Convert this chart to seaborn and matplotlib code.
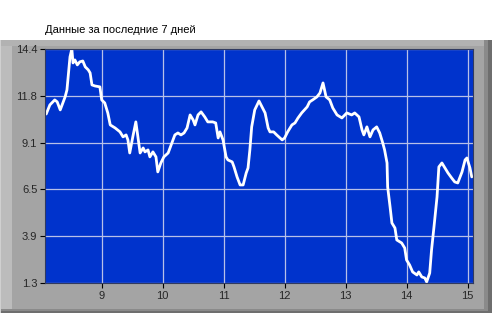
import matplotlib
matplotlib.use("Agg")
import matplotlib.pyplot as plt
from matplotlib.patches import Rectangle
import seaborn as sns
import pandas as pd

# ---- data ----
days = [8.09, 8.15, 8.23, 8.27, 8.32, 8.37, 8.40, 8.43, 8.45, 8.48, 8.51, 8.53, 8.56, 8.60,
        8.64, 8.69, 8.73, 8.78, 8.81, 8.84, 8.89, 8.97, 9.00, 9.05, 9.10, 9.14, 9.22, 9.30,
        9.35, 9.40, 9.43, 9.46, 9.51, 9.56, 9.60, 9.63, 9.68, 9.71, 9.76, 9.79, 9.84, 9.89,
        9.92, 9.97, 10.02, 10.09, 10.15, 10.20, 10.25, 10.30, 10.35, 10.40, 10.45, 10.50,
        10.53, 10.58, 10.63, 10.69, 10.74, 10.82, 10.87, 10.91, 10.94, 10.99, 11.04, 11.07,
        11.14, 11.17, 11.22, 11.27, 11.32, 11.37, 11.40, 11.43, 11.46, 11.51, 11.58, 11.63,
        11.68, 11.73, 11.76, 11.82, 11.87, 11.96, 12.00, 12.05, 12.12, 12.17, 12.22, 12.28,
        12.37, 12.41, 12.46, 12.53, 12.58, 12.63, 12.68, 12.74, 12.79, 12.86, 12.94, 13.02,
        13.10, 13.15, 13.22, 13.27, 13.30, 13.35, 13.40, 13.45, 13.51, 13.56, 13.61, 13.64,
        13.68, 13.69, 13.73, 13.76, 13.81, 13.84, 13.92, 13.97, 14.00, 14.05, 14.10, 14.17,
        14.20, 14.25, 14.30, 14.33, 14.38, 14.41, 14.45, 14.50, 14.53, 14.58, 14.63, 14.68,
        14.74, 14.79, 14.84, 14.91, 14.96, 14.99, 15.04, 15.07]
values = [10.76, 11.27, 11.55, 11.44, 10.99, 11.44, 11.72, 12.11, 12.84, 13.96, 14.40, 13.62,
          13.79, 13.51, 13.68, 13.73, 13.40, 13.23, 13.06, 12.39, 12.33, 12.28, 11.55, 11.38,
          10.82, 10.15, 9.98, 9.76, 9.48, 9.59, 9.31, 8.58, 9.48, 10.32, 9.31, 8.58, 8.86,
          8.64, 8.75, 8.36, 8.64, 8.36, 7.52, 8.02, 8.36, 8.58, 9.14, 9.59, 9.70, 9.59, 9.70,
          9.98, 10.71, 10.43, 10.15, 10.71, 10.88, 10.60, 10.32, 10.32, 10.26, 9.42, 9.76,
          9.31, 8.36, 8.19, 8.08, 7.80, 7.24, 6.79, 6.79, 7.46, 7.74, 8.75, 10.04, 10.99,
          11.49, 11.16, 10.82, 9.98, 9.76, 9.76, 9.59, 9.31, 9.42, 9.76, 10.15, 10.26, 10.54,
          10.82, 11.16, 11.44, 11.55, 11.72, 11.94, 12.50, 11.72, 11.55, 11.10, 10.71, 10.54,
          10.82, 10.71, 10.82, 10.60, 9.87, 9.59, 10.04, 9.48, 9.87, 10.04, 9.70, 9.14, 8.75,
          8.02, 6.68, 5.56, 4.66, 4.38, 3.71, 3.54, 3.26, 2.59, 2.31, 1.92, 1.75, 1.92, 1.64,
          1.58, 1.36, 1.86, 3.15, 4.44, 6.12, 7.80, 8.02, 7.74, 7.46, 7.18, 6.96, 6.90, 7.52,
          8.19, 8.30, 7.74, 7.24]
x_ticks = [9, 10, 11, 12, 13, 14, 15]
y_ticks = [1.3, 3.92, 6.54, 9.16, 11.78, 14.4]
y_tick_labels = ["1.3", "3.9", "6.5", "9.1", "11.8", "14.4"]
title = "Данные за последние 7 дней"

df = pd.DataFrame({"day": days, "value": values})

sns.set_style("white")
plt.rcParams["font.family"] = ["Liberation Sans", "DejaVu Sans"]

W, H = 495, 313
fig = plt.figure(figsize=(W / 100, H / 100), dpi=100)
fig.patch.set_facecolor("white")


def frect(x0, y0, x1, y1, color):
    fig.add_artist(Rectangle((x0 / W, 1 - y1 / H), (x1 - x0) / W, (y1 - y0) / H,
                             transform=fig.transFigure, facecolor=color,
                             edgecolor="none", zorder=0))


# bevelled grey frame
frect(0, 40, 492, 313, "#6e6e6e")
frect(0, 40, 488, 311, "#8a8a8a")
frect(0, 40, 484, 309, "#a4a4a4")
frect(0, 40, 12, 309, "#bcbcbc")
frect(0, 40, 484, 46, "#b2b2b2")
frect(0, 40, 1, 313, "#d0d0d0")

fig.text(45 / W, 1 - 30 / H, title, fontsize=8, ha="left", va="center", color="black")

ax = fig.add_axes([45 / W, 1 - 283 / H, (473 - 45) / W, (283 - 49) / H])
ax.set_facecolor("#0033cc")
sns.lineplot(data=df, x="day", y="value", ax=ax, color="white", linewidth=2.0,
             estimator=None, sort=False)
ax.set_xlim(8.07, 15.09)
ax.set_ylim(1.3, 14.4)
ax.set_xticks(x_ticks)
ax.set_xticklabels([str(t) for t in x_ticks])
ax.set_yticks(y_ticks)
ax.set_yticklabels(y_tick_labels)
ax.grid(True, color="#b8c0e8", linewidth=0.9)
ax.set_axisbelow(True)
ax.set_xlabel("")
ax.set_ylabel("")
ax.tick_params(axis="both", direction="out", length=3.5, width=0.8, color="black",
               labelsize=8, pad=2, left=True, bottom=True)
for s in ax.spines.values():
    s.set_visible(True)
    s.set_color("#303a60")
    s.set_linewidth(0.8)

fig.savefig("out.png", dpi=100)
